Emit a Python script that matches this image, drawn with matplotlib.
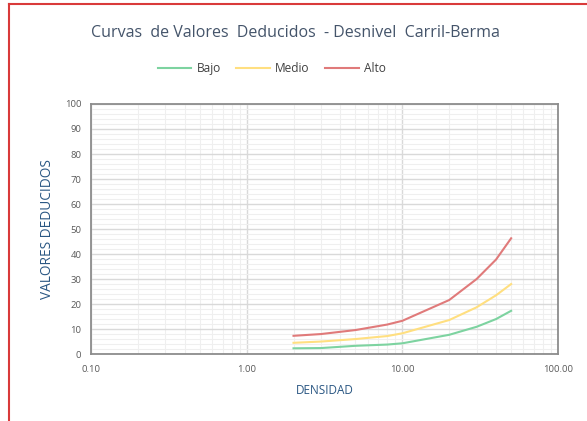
import matplotlib
matplotlib.use("Agg")
import matplotlib.pyplot as plt
from matplotlib.lines import Line2D
from matplotlib.ticker import FixedLocator, MultipleLocator, FuncFormatter, LogLocator, NullFormatter

# Deduct-value curves per severity level
densidad = [2, 3, 5, 8, 10, 20, 30, 40, 50]
bajo = [2.3, 2.4, 3.3, 3.8, 4.3, 7.7, 10.9, 14.0, 17.3]
medio = [4.5, 5.0, 6.0, 7.2, 8.3, 13.6, 18.7, 23.5, 28.0]
alto = [7.3, 8.0, 9.6, 11.8, 13.3, 21.6, 30.0, 37.8, 46.3]

series_names = ["Bajo", "Medio", "Alto"]
series_colors = ["#7dd3a0", "#ffdf80", "#e07a7a"]

x_ticks = [0.1, 1, 10, 100]
title = "Curvas  de Valores  Deducidos  - Desnivel  Carril-Berma"

plt.rcParams['font.family'] = ['Open Sans', 'DejaVu Sans']

fig = plt.figure(figsize=(5.87, 4.21), dpi=100)
ax = fig.add_axes([0.155, 0.159, 0.7956, 0.594])

for name, vals, col in zip(series_names, [bajo, medio, alto], series_colors):
    ax.plot(densidad, vals, color=col, lw=1.5, label=name, zorder=3)

ax.set_xscale("log")
ax.set_xlim(0.1, 100)
ax.set_ylim(0, 100)
ax.xaxis.set_major_locator(FixedLocator(x_ticks))
ax.xaxis.set_minor_locator(LogLocator(base=10, subs=range(2, 10)))
ax.xaxis.set_major_formatter(FuncFormatter(lambda v, p: f"{v:.2f}"))
ax.xaxis.set_minor_formatter(NullFormatter())
ax.yaxis.set_major_locator(MultipleLocator(10))
ax.yaxis.set_minor_locator(MultipleLocator(2))

ax.grid(which="major", color="#d9d9d9", lw=1.0, zorder=0)
ax.grid(which="minor", color="#efefef", lw=0.8, zorder=0)
ax.set_axisbelow(True)

for s in ax.spines.values():
    s.set_color("#8c8c8c")
    s.set_linewidth(1.3)

ax.tick_params(which="both", length=0, labelsize=6.8, labelcolor="#595959")
ax.tick_params(axis="x", pad=8)
ax.tick_params(axis="y", pad=7)

ax.set_xlabel("DENSIDAD", fontsize=8.5, color="#2a5783", labelpad=7)
ax.set_ylabel("VALORES DEDUCIDOS", fontsize=9.8, color="#2a5783", labelpad=7)

fig.text(0.503, 0.922, title, ha="center", va="center", fontsize=11.5, color="#44546a")

fig.legend(loc="center", bbox_to_anchor=(0.463, 0.838), ncol=3, frameon=False,
           fontsize=8.6, handlelength=2.8, columnspacing=1.3, handletextpad=0.45,
           labelcolor="#404040")

# Red frame on left and top edges
fig.add_artist(Line2D([0.0153, 0.0153], [0.0, 0.99], transform=fig.transFigure,
                      color="#d93a3a", lw=1.5))
fig.add_artist(Line2D([0.0153, 1.0], [0.99, 0.99], transform=fig.transFigure,
                      color="#d93a3a", lw=1.5))

fig.savefig("out.png", dpi=100)
